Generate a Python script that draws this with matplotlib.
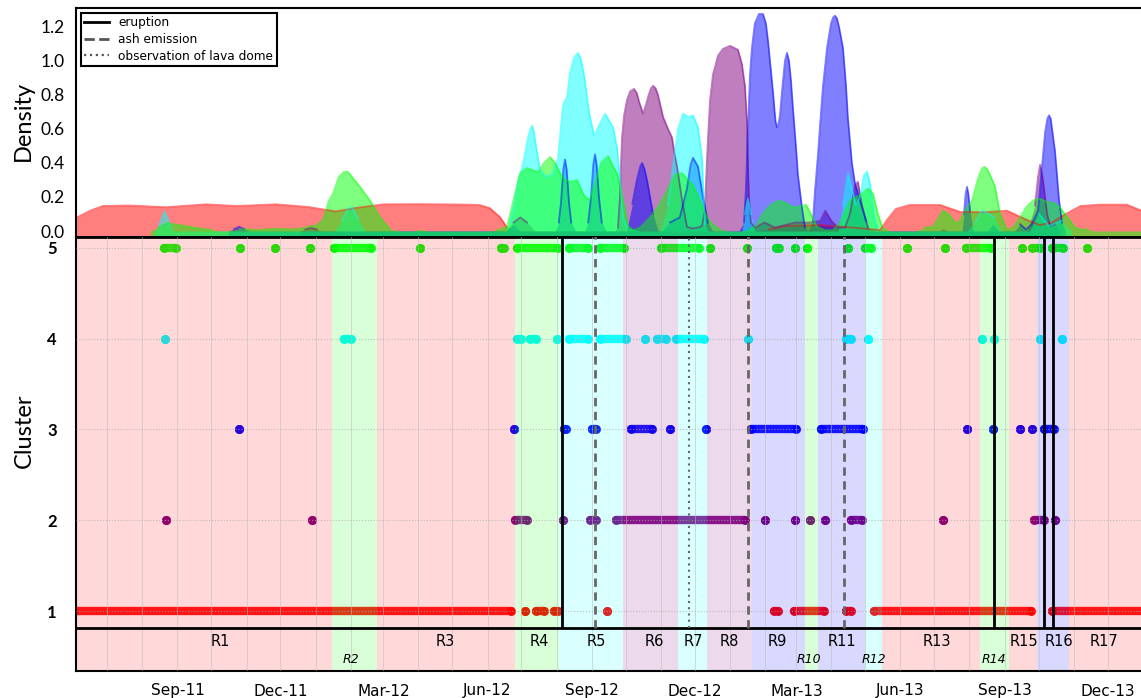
import numpy as np
import matplotlib.pyplot as plt
import matplotlib.dates as mdates
from matplotlib.lines import Line2D

plt.rcParams['font.family'] = 'DejaVu Sans'

# days are counted from 1 June 2011
t0 = mdates.date2num(np.datetime64('2011-06-01'))

cluster_colors = ['#ff0000', '#800080', '#0000ff', '#00ffff', '#00ff00']

# kernel density of each cluster over time, (day, density)
dens_c1 = [(-10, 0.03), (2, 0.076), (15, 0.12), (26, 0.147), (50, 0.15), (82, 0.14), (117, 0.157),
           (144, 0.147), (179, 0.157), (208, 0.141), (232, 0.115), (249, 0.135), (274, 0.157),
           (306, 0.158), (342, 0.156), (359, 0.153), (368, 0.135), (377, 0.082), (383, 0.024),
           (389, 0.003), (400, 0.0), (600, 0.0), (615, 0.01), (630, 0.03), (660, 0.035), (690, 0.02),
           (705, 0.01), (713, 0.006), (719, 0.065), (727, 0.13), (739, 0.153), (766, 0.153),
           (784, 0.112), (806, 0.11), (825, 0.12), (843, 0.065), (854, 0.035), (865, 0.05),
           (877, 0.1), (890, 0.147), (907, 0.155), (931, 0.155), (944, 0.12), (955, 0.07)]
dens_c2 = [(200, 0.0), (205, 0.01), (210, 0.018), (215, 0.01), (220, 0.0),
           (383, 0.0), (389, 0.05), (395, 0.08), (401, 0.05), (408, 0.0),
           (478, 0.0), (481.3, 0.02), (483.1, 0.2), (484.0, 0.4), (484.9, 0.55), (486.7, 0.68),
           (489.3, 0.77), (492.0, 0.82), (495.5, 0.835), (498, 0.81), (500, 0.76), (503.5, 0.69),
           (506, 0.74), (508, 0.79), (510.5, 0.84), (512.3, 0.853), (514.5, 0.84), (516.7, 0.8),
           (521.2, 0.67), (525.6, 0.6), (529.1, 0.55), (531.8, 0.435),
           (533.5, 0.38), (538, 0.18), (542.3, 0.024), (547, 0.015), (552, 0.02), (555.6, 0.03),
           (558.2, 0.13), (560.0, 0.43), (562.7, 0.77), (565.3, 0.92), (569.7, 1.03), (574.1, 1.07),
           (580.3, 1.088), (587.4, 1.065), (590.9, 0.98), (593.6, 0.85), (595.3, 0.65), (596.2, 0.4),
           (597.1, 0.2), (598.8, 0.05), (602.3, 0.02), (611, 0.05), (620, 0.02), (638, 0.05),
           (651, 0.05), (660, 0.06), (664.5, 0.12), (670, 0.06), (676, 0.02), (682, 0.02),
           (686.4, 0.1), (690.8, 0.27), (693.4, 0.29), (697, 0.15), (702.3, 0.02), (710, 0.0),
           (765, 0.0), (768.6, 0.015), (773, 0.0),
           (843, 0.0), (849.9, 0.15), (852.6, 0.32), (854.4, 0.39), (857, 0.3), (860.6, 0.1),
           (863.2, 0.03), (867.6, 0.04), (872, 0.0)]
dens_c3 = [(137, 0.0), (142, 0.012), (146.4, 0.025), (151, 0.012), (156, 0.0),
           (382, 0.0), (388.5, 0.04), (395, 0.0),
           (426, 0.0), (429, 0.05), (431, 0.17), (433, 0.36), (434.5, 0.42), (436, 0.36),
           (438, 0.17), (440, 0.05), (444, 0.0),
           (452, 0.0), (455, 0.05), (457.5, 0.2), (459.5, 0.39), (461, 0.45), (462.5, 0.39),
           (464.5, 0.2), (467, 0.05), (471, 0.0),
           (489, 0.0), (494, 0.16), (498, 0.3), (501, 0.38), (502.6, 0.4), (504.5, 0.37), (507, 0.3),
           (512.3, 0.1), (516.7, 0.0),
           (520, 0.0), (527.3, 0.05), (536, 0.08), (542.3, 0.25), (545.5, 0.39), (547.6, 0.43),
           (552, 0.38), (556.5, 0.2), (560.9, 0.05), (565, 0.0),
           (588, 0.0), (592.7, 0.05), (594.4, 0.25), (596.2, 0.6), (598.0, 0.92), (599.7, 1.076),
           (602.3, 1.22), (605.9, 1.275), (609.5, 1.275), (612.1, 1.22), (613.9, 1.12), (618.3, 0.82),
           (620.5, 0.65), (621.8, 0.61), (623.2, 0.63), (624.5, 0.68), (626.3, 0.82), (628.9, 1.0),
           (630.7, 1.047), (632.5, 1.0),
           (634.3, 0.88), (636.0, 0.72), (638.6, 0.5), (640.4, 0.33), (644.0, 0.135), (646.6, 0.02),
           (649.3, 0.0), (653.7, 0.06), (655.4, 0.235), (658.1, 0.45), (659.9, 0.62), (662.5, 0.85),
           (666.1, 1.076), (669.6, 1.22), (671.5, 1.255), (673.1, 1.265), (674.8, 1.25), (676.7, 1.2),
           (680.2, 1.076), (682.8, 0.86),
           (684.6, 0.66), (688.1, 0.4), (690.8, 0.28), (695.2, 0.18), (700.5, 0.06), (704.0, 0.0),
           (785.4, 0.0), (787.1, 0.1), (788.6, 0.22), (789.8, 0.26), (791, 0.22), (792.5, 0.12),
           (795.1, 0.0),
           (808, 0.0), (812.8, 0.04), (818, 0.0), (832, 0.0), (836.7, 0.04), (842, 0.01), (847, 0.04),
           (852.6, 0.12), (856.1, 0.38), (858.8, 0.58), (860.8, 0.66), (862.3, 0.68), (863.8, 0.66),
           (865.0, 0.6), (867.6, 0.47),
           (871.2, 0.18), (873.8, 0.05), (876.5, 0.0)]
dens_c4 = [(72, 0.0), (75.6, 0.03), (78.3, 0.08), (80.5, 0.114), (82.7, 0.08), (85.4, 0.03), (89, 0.0),
           (231, 0.0), (237.4, 0.06), (242.7, 0.13), (246.2, 0.14), (251.5, 0.07), (258, 0.0),
           (381.5, 0.0), (385.9, 0.05), (389.4, 0.15), (392.9, 0.28), (397.4, 0.4), (401.8, 0.55),
           (403.8, 0.6), (405.3, 0.62), (406.8, 0.59), (408.9, 0.5), (412.4, 0.36), (416.8, 0.32),
           (423.0, 0.33), (428.3, 0.43), (432.7, 0.74), (436.3, 0.79), (438.9, 0.93), (442.5, 1.02),
           (446.0, 1.047), (448.5, 1.01), (451.3, 0.92), (455.7, 0.7),
           (460.2, 0.56), (464.6, 0.62), (469.9, 0.69), (476.9, 0.61), (480.5, 0.49), (483.1, 0.3),
           (485.8, 0.08), (489.3, 0.02), (500.8, 0.0), (518.5, 0.0), (525.6, 0.15), (530.0, 0.38),
           (534.4, 0.6), (538.8, 0.69), (543.2, 0.67), (547.6, 0.68), (552.0, 0.61), (555.6, 0.43),
           (557.0, 0.21), (558.2, 0.04), (561, 0.0),
           (590.9, 0.0), (593.6, 0.1), (596.2, 0.19), (598.8, 0.1), (602.3, 0.0),
           (675.8, 0.0), (680.2, 0.15), (684.6, 0.34), (688.1, 0.25), (691.7, 0.15), (695.2, 0.2),
           (698.7, 0.33), (701.4, 0.35), (704.0, 0.28), (707.6, 0.1), (710.2, 0.02), (712.9, 0.0),
           (790, 0.0), (797, 0.05), (803, 0.12), (809, 0.1), (814, 0.08), (820, 0.0),
           (845, 0.0), (853.5, 0.1), (862, 0.03), (873.8, 0.06), (882, 0.0)]
dens_c5 = [(68, 0.0), (75, 0.02), (82.7, 0.047), (94, 0.035), (107, 0.02), (123, 0.005), (134, 0.0),
           (147, 0.012), (162, 0.006), (178, 0.013), (195, 0.01), (205.6, 0.02), (210, 0.03),
           (214.4, 0.03), (220.6, 0.065), (225.9, 0.18), (229.4, 0.22), (234.7, 0.32), (238.5, 0.345),
           (241.8, 0.35), (244.5, 0.335),
           (247.2, 0.31), (253.3, 0.26), (257.7, 0.22), (262.1, 0.18), (270.9, 0.08), (279.8, 0.01),
           (290, 0.0), (300, 0.0), (306, 0.01), (313, 0.0), (368, 0.0), (374.4, 0.005), (383.3, 0.024),
           (388.5, 0.17), (394.7, 0.34), (400.9, 0.37), (405.3, 0.36), (410.6, 0.345), (415.9, 0.4),
           (421.3, 0.435), (425.7, 0.4), (430.1, 0.34), (434.5, 0.3), (439.8, 0.29), (445.1, 0.3),
           (450.4, 0.22), (454, 0.19), (456.6, 0.19), (461.9, 0.3), (466.3, 0.4), (472.5, 0.44),
           (476.9, 0.38), (480.5, 0.34), (485.8, 0.18), (490.2, 0.03), (494.6, 0.005), (500.8, 0.02),
           (509.7, 0.08), (518.5, 0.16), (524.7, 0.24), (531.8, 0.33), (537.9, 0.34), (543.2, 0.3),
           (547.6, 0.27), (553.8, 0.18), (560.0, 0.08), (565.3, 0.035), (571.5, 0.01), (580.3, 0.0),
           (589.1, 0.0), (598.0, 0.01), (604.1, 0.035), (607, 0.08), (611.2, 0.12), (617.4, 0.16),
           (624.5, 0.18), (630.7, 0.16), (636.0, 0.14), (642.2, 0.145), (647.5, 0.155), (651.9, 0.1),
           (657.2, 0.025), (664.3, 0.005), (671.4, 0.006), (677.6, 0.05), (681.9, 0.12), (686.4, 0.18),
           (695.2, 0.21), (702.3, 0.25), (706.7, 0.22), (711.1, 0.1), (714.6, 0.03), (721.7, 0.0),
           (743.8, 0.0), (752.6, 0.02), (759.7, 0.025), (764, 0.07), (768.6, 0.12), (774.8, 0.09),
           (779.2, 0.047), (783.6, 0.06), (788.0, 0.12), (794.2, 0.18), (799.6, 0.31), (802.5, 0.36),
           (804.9, 0.378), (807.5, 0.365),
           (810.2, 0.33), (814.6, 0.26), (819.0, 0.1), (825.2, 0.006), (830.5, 0.02), (836.7, 0.08),
           (842.0, 0.14), (848.2, 0.18), (854.4, 0.19), (860.6, 0.17), (866.7, 0.165), (872.0, 0.14),
           (878.2, 0.084), (885.3, 0.02), (892.4, 0.006), (895.9, 0.012), (903, 0.0), (950, 0.0)]

# consecutive days assigned to each cluster, (first day, last day)
runs_c1 = [(-15, 387), (399, 399), (409, 416), (425, 428), (472, 472), (619, 623), (637, 663),
           (683, 687), (708, 846), (865, 960)]
runs_c2 = [(82, 82), (211, 211), (390, 401), (433, 433), (457, 462), (480, 594), (611, 611),
           (638, 638), (651, 651), (664, 664), (687, 697), (769, 769), (849, 858), (868, 868)]
runs_c3 = [(146, 146), (389, 389), (434, 435), (458, 462), (493, 511), (527, 527), (559, 559),
           (599, 639), (661, 698), (790, 790), (813, 813), (837, 837), (847, 847), (858, 867)]
runs_c4 = [(81, 81), (239, 245), (392, 396), (404, 409), (427, 427), (438, 455), (465, 488),
           (505, 505), (516, 524), (533, 557), (596, 596), (683, 687), (702, 702), (803, 803),
           (814, 814), (854, 854), (874, 874)]
runs_c5 = [(80, 91), (147, 147), (178, 178), (209, 209), (230, 263), (306, 306), (378, 381),
           (392, 428), (438, 455), (465, 487), (519, 553), (563, 563), (595, 595), (621, 624),
           (638, 638), (648, 648), (685, 685), (700, 705), (737, 737), (770, 770), (789, 811),
           (838, 838), (847, 854), (865, 875), (896, 896)]

# regimes: edges in days, dominant cluster of each one
regime_edges = [-20, 229, 268, 390, 429, 486, 534, 560, 600, 647, 658, 700, 715, 801, 827, 852, 880, 960]
regime_cluster = [1, 5, 1, 5, 4, 2, 4, 2, 3, 5, 3, 4, 1, 5, 1, 3, 1]
regime_names = ['R%d' % i for i in range(1, 18)]
regime_label_day = [130, 245, 329, 412, 462, 513, 548, 580, 622, 650, 679, 708, 763, 814, 840, 871, 911]
short_regimes = ['R2', 'R10', 'R12', 'R14']

eruption_days = [432, 814, 858, 866]
ash_days = [461, 596, 681]
dome_days = [544]

W, H = 1141, 698
fig = plt.figure(figsize=(W / 100, H / 100), dpi=100)


def box(l, t, r, b):
    return [l / W, 1 - b / H, (r - l) / W, (b - t) / H]


ax_d = fig.add_axes(box(76, 8, 1142.6, 237))
ax_c = fig.add_axes(box(76, 237, 1142.6, 671), sharex=ax_d)

# --- density panel ---
base = -0.035
for dens, col in zip([dens_c1, dens_c2, dens_c3, dens_c4, dens_c5], cluster_colors):
    arr = np.array(dens)
    x = t0 + arr[:, 0]
    y = arr[:, 1]
    ax_d.fill_between(x, base, y, color=col, alpha=0.5, lw=0)
    ax_d.plot(x, np.where(y > 0.004, y, np.nan), color=col, alpha=0.5, lw=1.3)

ax_d.set_ylim(base, 1.31)
ax_d.set_yticks([0.0, 0.2, 0.4, 0.6, 0.8, 1.0, 1.2])
ax_d.set_yticklabels(['%.1f' % v for v in [0.0, 0.2, 0.4, 0.6, 0.8, 1.0, 1.2]],
                     family='Lato', fontsize=12.5)
ax_d.tick_params(axis='y', length=0, pad=8)
ax_d.tick_params(axis='x', length=0, labelbottom=False)

handles = [Line2D([], [], color='black', lw=2, ls='-'),
           Line2D([], [], color='#555555', lw=2, ls='--'),
           Line2D([], [], color='#555555', lw=1.6, ls=':')]
leg = ax_d.legend(handles, ['eruption', 'ash emission', 'observation of lava dome'],
                  loc='upper left', fontsize=8.7, fancybox=False, framealpha=1,
                  edgecolor='black', borderaxespad=0.4, labelspacing=0.3,
                  borderpad=0.3, handlelength=2.0)
leg.get_frame().set_linewidth(1.5)

# --- cluster panel ---
for level, (runs, col) in enumerate(zip([runs_c1, runs_c2, runs_c3, runs_c4, runs_c5],
                                         cluster_colors), start=1):
    for s, e in runs:
        ax_c.plot([t0 + s, t0 + e], [level, level], color=col, lw=6, marker='o', ms=6.5,
                  mew=0, solid_capstyle='round', alpha=0.9, zorder=1)

for a, b, k in zip(regime_edges[:-1], regime_edges[1:], regime_cluster):
    ax_c.axvspan(t0 + a, t0 + b, color=cluster_colors[k - 1], alpha=0.15, lw=0, zorder=2)

for name, d in zip(regime_names, regime_label_day):
    if name in short_regimes:
        ax_c.text(t0 + d, 0.47, name, ha='center', va='center', fontsize=9, style='italic', zorder=5)
    else:
        ax_c.text(t0 + d, 0.67, name, ha='center', va='center', fontsize=10.5, zorder=5)

ax_c.axhline(0.81, color='black', lw=2, zorder=4)
ax_c.vlines([t0 + d for d in eruption_days], 0.81, 5.2, color='black', lw=2, zorder=4)
ax_c.vlines([t0 + d for d in ash_days], 0.81, 5.2, color='#666666', lw=2, ls=(0, (3, 2)), zorder=4)
ax_c.vlines([t0 + d for d in dome_days], 0.81, 5.2, color='#666666', lw=1.5, ls=(0, (1, 2)), zorder=4)

ax_c.set_ylim(0.34, 5.12)
ax_c.set_yticks([1, 2, 3, 4, 5])
ax_c.set_yticklabels(['1', '2', '3', '4', '5'], family='Lato', fontweight='bold', fontsize=12)
ax_c.tick_params(axis='y', length=0, pad=14)
ax_c.tick_params(axis='x', which='both', length=0, pad=9, labelsize=11)

ax_c.set_xlim(t0 + 2.3, t0 + 945)
ax_c.xaxis.set_major_locator(mdates.MonthLocator(bymonth=[3, 6, 9, 12]))
ax_c.xaxis.set_minor_locator(mdates.MonthLocator())
ax_c.xaxis.set_major_formatter(mdates.DateFormatter('%b-%y'))
ax_c.set_axisbelow(False)
ax_c.grid(which='both', axis='x', color='#bbbbbb', lw=0.6, alpha=0.6)
ax_c.grid(which='major', axis='y', color='#aaaaaa', lw=0.8, ls=':', alpha=0.7)

for ax in (ax_d, ax_c):
    for sp in ax.spines.values():
        sp.set_color('black')
        sp.set_linewidth(1.5)
ax_d.spines['bottom'].set_linewidth(2)
ax_c.spines['top'].set_linewidth(2)

fig.text(23 / W, 1 - 121 / H, 'Density', rotation=90, ha='center', va='center',
         family='Lato', fontsize=17)
fig.text(24 / W, 1 - 431 / H, 'Cluster', rotation=90, ha='center', va='center',
         family='Lato', fontsize=17)

fig.savefig('out.png', dpi=100)
